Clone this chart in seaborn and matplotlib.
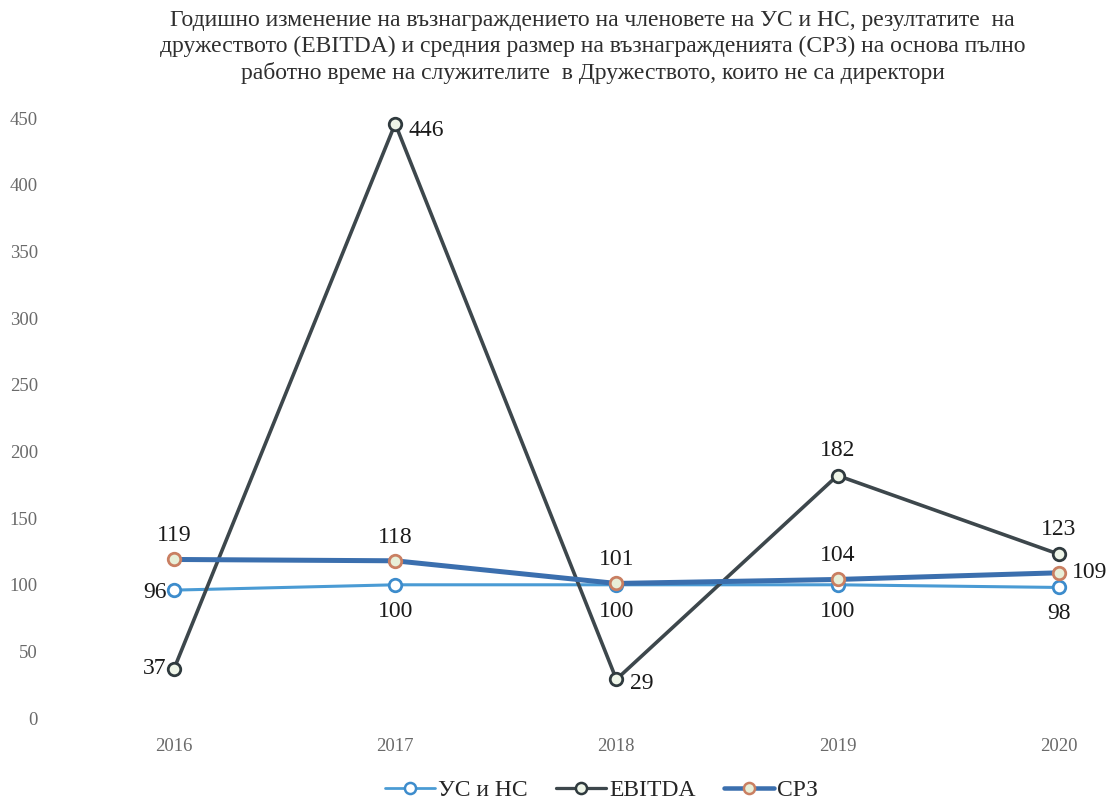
import numpy as np
import pandas as pd
import matplotlib.pyplot as plt
import seaborn as sns

# chart data
years = [2016, 2017, 2018, 2019, 2020]
series_names = ["УС и НС", "EBITDA", "СРЗ"]
us_ns = [96, 100, 100, 100, 98]
ebitda = [37, 446, 29, 182, 123]
srz = [119, 118, 101, 104, 109]
y_ticks = [0, 50, 100, 150, 200, 250, 300, 350, 400, 450]
title = ("Годишно изменение на възнаграждението на членовете на УС и НС, резултатите  на\n"
         "дружеството (EBITDA) и средния размер на възнагражденията (СРЗ) на основа пълно\n"
         "работно време на служителите  в Дружеството, които не са директори")

df = pd.DataFrame({
    "year": years * 3,
    "value": us_ns + ebitda + srz,
    "series": [s for s in series_names for _ in years],
})

sns.set_style("white")
plt.rcParams["font.family"] = ["Liberation Serif", "DejaVu Serif"]

colors = {"УС и НС": "#4a9bd4", "EBITDA": "#3d474c", "СРЗ": "#3b6fae"}
widths = {"УС и НС": 2.2, "EBITDA": 2.6, "СРЗ": 3.6}
mk_edge = {"УС и НС": "#3d8ccc", "EBITDA": "#2f3a3e", "СРЗ": "#c97f62"}
mk_face = {"УС и НС": "white", "EBITDA": "#eef5e8", "СРЗ": "#e8efd8"}

# label offsets (points) per series, per year
offsets = {
    "УС и НС": [(-14, -2), (0, -19), (0, -19), (0, -19), (0, -19)],
    "EBITDA": [(-14, 0), (22, -5), (18, -3), (0, 18), (0, 18)],
    "СРЗ": [(0, 17), (0, 17), (0, 17), (0, 17), (22, 0)],
}

fig = plt.figure(figsize=(11.14, 8.05), dpi=100)
ax = fig.add_axes([0.054, 0.108, 0.942, 0.745])

sns.lineplot(data=df, x="year", y="value", hue="series", palette=colors,
             hue_order=series_names, ax=ax, legend=False, sort=False)
for line, name in zip(ax.get_lines(), series_names):
    line.set_linewidth(widths[name])
    line.set_marker("o")
    line.set_markersize(9)
    line.set_markeredgewidth(2)
    line.set_markeredgecolor(mk_edge[name])
    line.set_markerfacecolor(mk_face[name])
    line.set_clip_on(False)

vals = {"УС и НС": us_ns, "EBITDA": ebitda, "СРЗ": srz}
for name in series_names:
    for x, v, off in zip(years, vals[name], offsets[name]):
        ax.annotate(str(v), (x, v), xytext=off, textcoords="offset points",
                    ha="center", va="center", fontsize=17, color="#1a1a1a")

ax.set_xlim(2015.485, 2020.23)
ax.set_ylim(0, 450)
ax.set_yticks(y_ticks)
ax.set_xticks(years)
ax.tick_params(axis="both", length=0, labelsize=13.5, labelcolor="#6a6a6a")
ax.tick_params(axis="y", pad=16)
ax.tick_params(axis="x", pad=14)
ax.set_xlabel("")
ax.set_ylabel("")
for sp in ax.spines.values():
    sp.set_visible(False)

fig.text(0.532, 0.988, title, ha="center", va="top", fontsize=17, color="#2e2e2e",
         linespacing=1.32)

handles = [plt.Line2D([], [], color=colors[n], lw=widths[n] * 0.9, marker="o", markersize=8,
                      markeredgewidth=1.8, markeredgecolor=mk_edge[n],
                      markerfacecolor=mk_face[n]) for n in series_names]
fig.legend(handles, series_names, loc="lower center", bbox_to_anchor=(0.54, -0.022),
           ncol=3, frameon=False, fontsize=17, handlelength=2.1, columnspacing=1.2,
           handletextpad=0.15)

fig.savefig("out.png", dpi=100)
